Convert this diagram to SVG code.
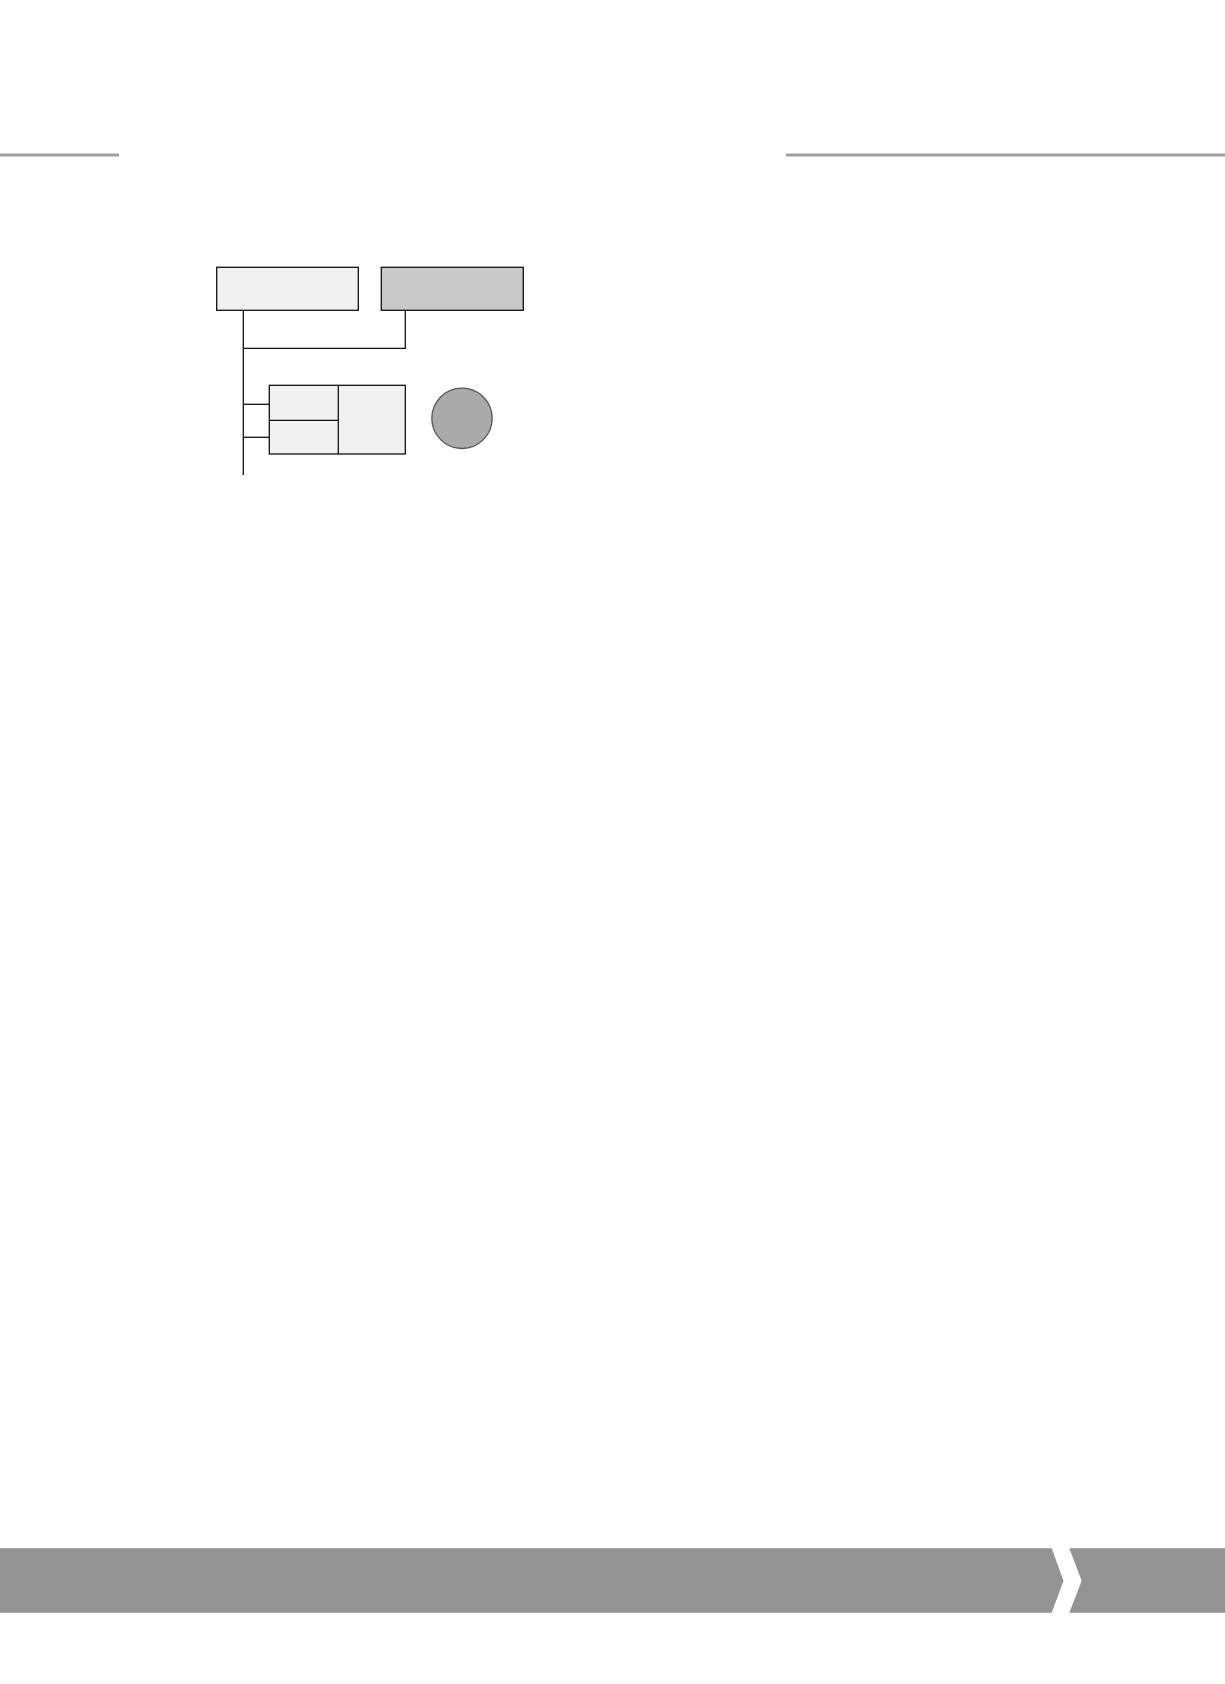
<svg xmlns="http://www.w3.org/2000/svg" width="1225" height="1684" viewBox="0 0 1225 1684">
<style>
.box{stroke:#111;stroke-width:1.3}
.light{fill:#f1f1f1}
.mid{fill:#c9c9c9}
.conn{stroke:#111;stroke-width:1.3;fill:none}
.rule{stroke:#a0a0a0;stroke-width:3}
.bar{fill:#939393}
</style>
<rect width="1225" height="1684" fill="#ffffff"/>
<g id="header">
<line class="rule" x1="0" y1="155" x2="119" y2="155"/>
<line class="rule" x1="786" y1="155" x2="1225" y2="155"/>
</g>
<g id="connectors">
<polyline class="conn" points="243.3,310.3 243.3,475"/>
<polyline class="conn" points="243.3,348.3 405.3,348.3 405.3,310.3"/>
<line class="conn" x1="243.3" y1="404.3" x2="269.3" y2="404.3"/>
<line class="conn" x1="243.3" y1="437.3" x2="269.3" y2="437.3"/>
</g>
<g id="node-a">
<rect class="box light" x="216.7" y="267.3" width="141.6" height="43"/>
</g>
<g id="node-b">
<rect class="box mid" x="381.3" y="267.3" width="142" height="43"/>
</g>
<g id="node-c">
<rect class="box light" x="269.3" y="385.3" width="136" height="68.7"/>
<line class="conn" x1="338.3" y1="385.3" x2="338.3" y2="454"/>
<line class="conn" x1="269.3" y1="420.3" x2="338.3" y2="420.3"/>
</g>
<g id="node-d">
<circle cx="462" cy="418.3" r="30.2" fill="#aaaaaa" stroke="#555555" stroke-width="1.3"/>
</g>
<g id="footer">
<polygon class="bar" points="0,1548.3 1051.7,1548.3 1063.5,1580.7 1051.7,1612.7 0,1612.7"/>
<polygon class="bar" points="1069.3,1548.3 1225,1548.3 1225,1612.7 1069.3,1612.7 1081.7,1580.7"/>
</g>
</svg>
